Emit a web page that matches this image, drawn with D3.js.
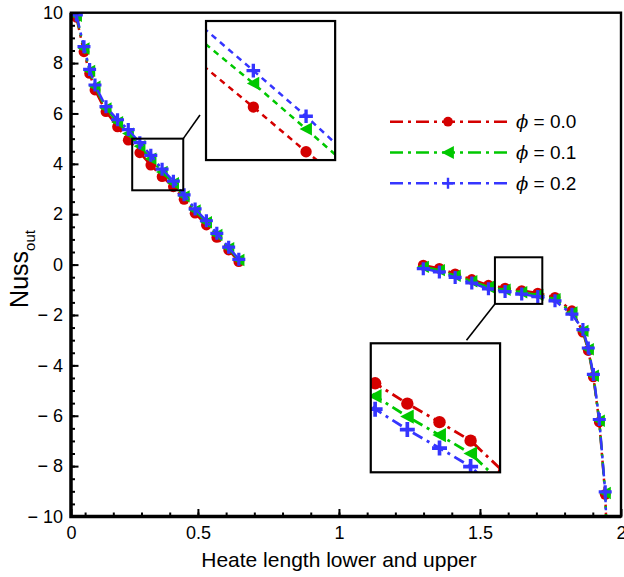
<!DOCTYPE html>
<html>
<head>
<meta charset="utf-8">
<script src="https://cdn.jsdelivr.net/npm/d3@7"></script>
<style>
  body { margin: 0; background: #fff; }
  svg { display: block; }
</style>
</head>
<body>
<script>
// ---- data -------------------------------------------------------------
// lower heated segment
const xLower     = [0.069, 0.096, 0.116, 0.135, 0.174, 0.215, 0.253, 0.294, 0.333, 0.373, 0.413, 0.451, 0.490, 0.530, 0.567, 0.609, 0.645];
const nussLower0 = [9.82, 8.45, 7.59, 6.93, 6.07, 5.47, 4.94, 4.44, 3.95, 3.49, 3.09, 2.59, 2.04, 1.57, 1.08, 0.58, 0.12];
const nussLower1 = [9.88, 8.58, 7.69, 7.06, 6.20, 5.65, 5.20, 4.70, 4.20, 3.68, 3.23, 2.71, 2.15, 1.68, 1.18, 0.65, 0.18];
const nussLower2 = [9.91, 8.65, 7.75, 7.13, 6.27, 5.75, 5.36, 4.84, 4.34, 3.79, 3.31, 2.77, 2.21, 1.74, 1.24, 0.69, 0.21];

// upper heated segment
const xUpper     = [1.299, 1.356, 1.412, 1.471, 1.530, 1.589, 1.648, 1.705, 1.766, 1.826, 1.865, 1.884, 1.902, 1.923, 1.944, 1.949];
const nussUpper0 = [-0.02, -0.15, -0.37, -0.59, -0.82, -0.93, -1.03, -1.13, -1.30, -1.83, -2.68, -3.41, -4.46, -6.25, -9.12, -10.62];
const nussUpper1 = [-0.09, -0.22, -0.44, -0.66, -0.89, -1.00, -1.10, -1.20, -1.37, -1.90, -2.63, -3.36, -4.41, -6.20, -9.07, -10.60];
const nussUpper2 = [-0.16, -0.29, -0.51, -0.73, -0.96, -1.07, -1.17, -1.27, -1.44, -1.97, -2.58, -3.31, -4.36, -6.15, -9.02, -10.58];

const phiLabels   = ["0.0", "0.1", "0.2"];
const xDomain     = [0.05, 2.0];
const yDomain     = [-10, 10];
const xTickValues = [0.05, 0.5, 1, 1.5, 2];
const xTickLabels = ["0", "0.5", "1", "1.5", "2"];
const yTickValues = [-10, -8, -6, -4, -2, 0, 2, 4, 6, 8, 10];
const yTickLabels = ["\u2212 10", "\u2212 8", "\u2212 6", "\u2212 4", "\u2212 2", "0", "2", "4", "6", "8", "10"];

// zoom windows: [x0, x1, y0, y1] in data units
const zoomLowerBox  = [0.267, 0.448, 2.95, 5.0];
const zoomUpperBox  = [1.553, 1.721, -1.56, 0.29];
const zoomLowerView = [0.259, 0.3545, 3.859, 5.384];
const zoomUpperView = [1.522, 1.759, -1.301, -0.604];

// ---- styling ----------------------------------------------------------
const colors  = ["#d40000", "#00c800", "#3535ff"];
const markers = ["circle", "triangle", "plus"];
const FONT = "'Liberation Sans', Arial, Helvetica, sans-serif";

const W = 624, H = 577;
const plot = { left: 71, right: 621, top: 12.7, bottom: 516.5 };

const svg = d3.select("body").append("svg")
  .attr("width", W).attr("height", H)
  .style("font-family", FONT);

const x = d3.scaleLinear().domain(xDomain).range([plot.left, plot.right]);
const y = d3.scaleLinear().domain(yDomain).range([plot.bottom, plot.top]);

const series = phiLabels.map((p, i) => ({
  label: p,
  color: colors[i],
  marker: markers[i],
  lower: xLower.map((xv, k) => [xv, [nussLower0, nussLower1, nussLower2][i][k]]),
  upper: xUpper.map((xv, k) => [xv, [nussUpper0, nussUpper1, nussUpper2][i][k]])
}));

const defs = svg.append("defs");
function addClip(id, x0, y0, w, h) {
  defs.append("clipPath").attr("id", id)
    .append("rect").attr("x", x0).attr("y", y0).attr("width", w).attr("height", h);
}
addClip("clip-main", plot.left, plot.top, plot.right - plot.left, plot.bottom - plot.top);

function drawMarker(g, type, px, py, color, s) {
  if (type === "circle") {
    g.append("circle").attr("cx", px).attr("cy", py).attr("r", 5.4 * s).attr("fill", color);
  } else if (type === "triangle") {
    const a = 6.2 * s, b = 5.6 * s;
    g.append("path")
      .attr("d", `M${px - a},${py} L${px + b},${py - a} L${px + b},${py + a} Z`)
      .attr("fill", color);
  } else {
    const a = 6.5 * s;
    g.append("path")
      .attr("d", `M${px - a},${py} H${px + a} M${px},${py - a} V${py + a}`)
      .attr("stroke", color).attr("stroke-width", 3.2 * s).attr("fill", "none");
  }
}

function drawSeries(g, sx, sy, dash, width, mscale) {
  const line = d3.line().x(d => sx(d[0])).y(d => sy(d[1]));
  series.forEach(s => {
    [s.lower, s.upper].forEach(pts => {
      g.append("path").datum(pts)
        .attr("d", line)
        .attr("fill", "none")
        .attr("stroke", s.color)
        .attr("stroke-width", width)
        .attr("stroke-dasharray", dash);
      pts.forEach(d => drawMarker(g, s.marker, sx(d[0]), sy(d[1]), s.color, mscale));
    });
  });
}

// ---- main curves ------------------------------------------------------
const main = svg.append("g").attr("clip-path", "url(#clip-main)");
drawSeries(main, x, y, "13,5,3,5", 2.5, 1);

// ---- axes -------------------------------------------------------------
const gx = svg.append("g").attr("transform", `translate(0,${plot.bottom})`);
gx.call(d3.axisBottom(x).tickValues(d3.range(0.1, 2.0, 0.1)).tickSize(-4).tickFormat(""));
gx.append("g").call(d3.axisBottom(x).tickValues(xTickValues).tickSize(-7.5)
  .tickFormat((d, i) => xTickLabels[i]).tickPadding(10));
gx.selectAll(".domain").remove();
gx.selectAll("line").attr("stroke", "#000").attr("stroke-width", 2);
gx.selectAll("text").attr("font-size", 18).attr("font-family", FONT).attr("fill", "#000")
  .attr("dy", "0.72em");

const gy = svg.append("g").attr("transform", `translate(${plot.left},0)`);
gy.call(d3.axisLeft(y).tickValues(d3.range(-9.5, 10, 0.5)).tickSize(-4).tickFormat(""));
gy.append("g").call(d3.axisLeft(y).tickValues(yTickValues).tickSize(-7.5)
  .tickFormat((d, i) => yTickLabels[i]).tickPadding(8));
gy.selectAll(".domain").remove();
gy.selectAll("line").attr("stroke", "#000").attr("stroke-width", 2);
gy.selectAll("text").attr("font-size", 18).attr("font-family", FONT).attr("fill", "#000");

// frame
svg.append("rect")
  .attr("x", plot.left).attr("y", plot.top)
  .attr("width", plot.right - plot.left).attr("height", plot.bottom - plot.top)
  .attr("fill", "none").attr("stroke", "#000").attr("stroke-width", 2.4);
svg.append("path")
  .attr("d", `M${plot.left},${plot.top} V${plot.bottom} H${plot.right}`)
  .attr("fill", "none").attr("stroke", "#000").attr("stroke-width", 3.4);

// titles
svg.append("text")
  .attr("x", 339).attr("y", 567)
  .attr("text-anchor", "middle").attr("font-size", 21).attr("fill", "#000")
  .text("Heate length lower and upper");

const yt = svg.append("text")
  .attr("transform", `translate(28,269) rotate(-90)`)
  .attr("text-anchor", "middle").attr("font-size", 25).attr("fill", "#000");
yt.append("tspan").text("Nuss");
yt.append("tspan").attr("font-size", 15).attr("dy", 7).text("out");

// ---- zoom insets ------------------------------------------------------
function drawZoom(id, box, view, dash, width, mscale, lineFrom, lineTo) {
  const bx0 = x(box[0]), bx1 = x(box[1]), by0 = y(box[3]), by1 = y(box[2]);
  svg.append("rect").attr("x", bx0).attr("y", by0)
    .attr("width", bx1 - bx0).attr("height", by1 - by0)
    .attr("fill", "none").attr("stroke", "#000").attr("stroke-width", 2);

  const pos = view.panel;
  const px0 = x(pos[0]), px1 = x(pos[1]), py0 = y(pos[3]), py1 = y(pos[2]);
  svg.append("rect").attr("x", px0).attr("y", py0)
    .attr("width", px1 - px0).attr("height", py1 - py0)
    .attr("fill", "#fff").attr("stroke", "none");
  addClip(id, px0, py0, px1 - px0, py1 - py0);
  const zx = d3.scaleLinear().domain([view.domain[0], view.domain[1]]).range([px0, px1]);
  const zy = d3.scaleLinear().domain([view.domain[2], view.domain[3]]).range([py1, py0]);
  const g = svg.append("g").attr("clip-path", `url(#${id})`);
  drawSeries(g, zx, zy, dash, width, mscale);
  svg.append("rect").attr("x", px0).attr("y", py0)
    .attr("width", px1 - px0).attr("height", py1 - py0)
    .attr("fill", "none").attr("stroke", "#000").attr("stroke-width", 2.2);

  svg.append("line")
    .attr("x1", x(lineFrom[0])).attr("y1", y(lineFrom[1]))
    .attr("x2", x(lineTo[0])).attr("y2", y(lineTo[1]))
    .attr("stroke", "#000").attr("stroke-width", 1.6);
}

drawZoom("clip-z1", zoomLowerBox,
  { panel: [0.5287, 0.9865, 4.15, 9.67], domain: zoomLowerView },
  "6,5", 2.5, 1.05,
  [zoomLowerBox[1], zoomLowerBox[3]], [0.5073, 5.94]);

drawZoom("clip-z2", zoomUpperBox,
  { panel: [1.1128, 1.5713, -8.245, -3.124], domain: zoomUpperView },
  "11,5,3,5", 2.8, 1.15,
  [zoomUpperBox[0], zoomUpperBox[2]], [1.4522, -3.0]);

// ---- legend -----------------------------------------------------------
const legend = svg.append("g");
series.forEach((s, i) => {
  const ly = 121.7 + i * 30.8;
  legend.append("line")
    .attr("x1", 390).attr("x2", 507).attr("y1", ly).attr("y2", ly)
    .attr("stroke", s.color).attr("stroke-width", 2.5)
    .attr("stroke-dasharray", "13,5,3,5");
  const lg = legend.append("g");
  if (s.marker === "plus") {
    lg.append("path").attr("d", `M${443},${ly} H${453} M${448},${ly - 5.5} V${ly + 5.5}`)
      .attr("stroke", s.color).attr("stroke-width", 2.4);
  } else {
    drawMarker(lg, s.marker, 448, ly, s.color, s.marker === "circle" ? 0.9 : 1.05);
  }
  const t = legend.append("text")
    .attr("x", 516).attr("y", ly + 6.2)
    .attr("font-size", 19).attr("fill", "#000");
  t.append("tspan").attr("font-family", "'DejaVu Serif', 'Liberation Serif', serif")
    .attr("font-style", "italic").attr("font-size", 18).text("\u03D5");
  t.append("tspan").text(" = " + s.label);
});
</script>
</body>
</html>
